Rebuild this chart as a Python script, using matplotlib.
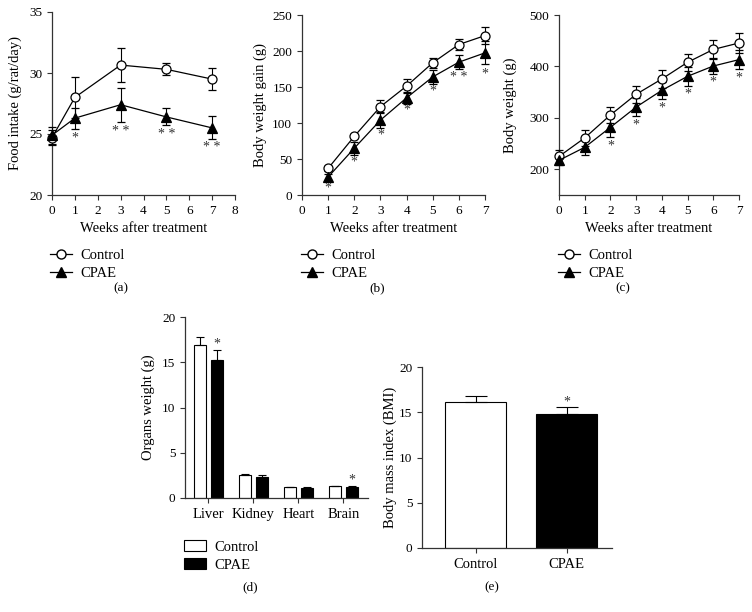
import numpy as np
import matplotlib.pyplot as plt
from matplotlib.lines import Line2D

plt.rcParams['font.family'] = ['Liberation Serif', 'DejaVu Serif']
plt.rcParams['font.size'] = 9

# (a) food intake
wk_a = [0, 1, 3, 5, 7]
food_ctrl = [24.7, 28.0, 30.65, 30.3, 29.5]
food_ctrl_err = [0.6, 1.7, 1.4, 0.5, 0.9]
food_cpae = [24.9, 26.3, 27.4, 26.4, 25.5]
food_cpae_err = [0.7, 0.85, 1.4, 0.7, 0.95]
food_star = ['', '*', '* *', '* *', '* *']
food_star_y = [0, 24.7, 25.2, 25.0, 23.9]

# (b) body weight gain
wk_b = [1, 2, 3, 4, 5, 6, 7]
gain_ctrl = [37, 81.5, 122.7, 151.3, 183.6, 209, 221.4]
gain_ctrl_err = [3, 3, 9, 10, 7, 8, 12]
gain_cpae = [25, 65, 104, 135, 164, 184.5, 197.4]
gain_cpae_err = [4, 9, 11, 8, 10, 9.5, 16]
gain_star = ['*', '*', '*', '*', '*', '* *', '*']
gain_star_y = [9, 46, 83, 117.5, 144.7, 163, 168]

# (c) body weight
wk_c = [0, 1, 2, 3, 4, 5, 6, 7]
bw_ctrl = [225, 261, 305.6, 345.8, 375.6, 408, 433, 445.6]
bw_ctrl_err = [12, 16, 15, 17, 18, 16, 18, 19]
bw_cpae = [217.4, 242.7, 281.6, 321, 353.5, 380.8, 400.8, 413.2]
bw_cpae_err = [10, 15, 18, 18, 16, 18, 16, 18]
bw_star = ['', '', '*', '*', '*', '*', '*', '*']
bw_star_y = [0, 0, 245, 286, 319, 345.7, 369.7, 377]

# (d) organs weight
organs = ['Liver', 'Kidney', 'Heart', 'Brain']
org_ctrl = [16.9, 2.5, 1.2, 1.3]
org_ctrl_err = [0.9, 0.1, 0.05, 0.05]
org_cpae = [15.2, 2.35, 1.15, 1.25]
org_cpae_err = [1.1, 0.15, 0.07, 0.05]
org_star = ['*', '', '', '*']

# (e) BMI
groups = ['Control', 'CPAE']
bmi = [16.1, 14.85]
bmi_err = [0.7, 0.7]
bmi_star = ['', '*']

W, H = 752, 612
fig = plt.figure(figsize=(W / 100, H / 100), dpi=100)


def mkax(l, r, t, b):
    ax = fig.add_axes([l / W, 1 - b / H, (r - l) / W, (b - t) / H])
    for s in ['top', 'right']:
        ax.spines[s].set_visible(False)
    for s in ['left', 'bottom']:
        ax.spines[s].set_color('#333333')
        ax.spines[s].set_linewidth(0.9)
    ax.tick_params(direction='out', length=3.5, width=0.8, color='#333333', labelsize=9.5)
    return ax


def line_panel(ax, x, c, ce, p, pe, stars, sy):
    for y, e, m, fc in [(c, ce, 'o', 'white'), (p, pe, '^', 'black')]:
        eb = ax.errorbar(x, y, yerr=e, color='black', lw=0.9, elinewidth=0.8, capsize=3,
                         capthick=0.8, marker=m, mfc=fc, mec='black', ms=6.5,
                         mew=0.9, zorder=3)
        eb[0].set_clip_on(False)
        for a in eb[1] + eb[2]:
            a.set_clip_on(False)
    for xi, s, yi in zip(x, stars, sy):
        if s:
            ax.text(xi, yi, s, ha='center', va='center', fontsize=10, color='#333333')
    ax.set_xlabel('Weeks after treatment', fontsize=10.5)


def legend_at(ax, x, y, handles, labels, **kw):
    ax.legend(handles, labels, loc='upper left', bbox_to_anchor=(x / W, 1 - y / H),
              bbox_transform=fig.transFigure, frameon=False, fontsize=10.5,
              handlelength=1.5, handletextpad=0.6, labelspacing=0.3, borderpad=0,
              borderaxespad=0, **kw)


line_handles = [Line2D([], [], color='black', lw=0.9, marker='o', mfc='white', mec='black', ms=6.5),
                Line2D([], [], color='black', lw=0.9, marker='^', mfc='black', mec='black', ms=6.5)]
labels = ['Control', 'CPAE']

# (a)
ax = mkax(52, 235, 12, 195)
line_panel(ax, wk_a, food_ctrl, food_ctrl_err, food_cpae, food_cpae_err, food_star, food_star_y)
ax.set_xlim(0, 8)
ax.set_ylim(20, 35)
ax.set_xticks(range(0, 9))
ax.set_yticks([20, 25, 30, 35])
ax.set_ylabel('Food intake (g/rat/day)', fontsize=10.5)
ax.yaxis.set_label_coords(-0.164, 0.5)
legend_at(ax, 50, 249, line_handles, labels)
fig.text(121 / W, 1 - 288 / H, '(a)', ha='center', va='center', fontsize=9.5)

# (b)
ax = mkax(302, 485, 15, 195)
line_panel(ax, wk_b, gain_ctrl, gain_ctrl_err, gain_cpae, gain_cpae_err, gain_star, gain_star_y)
ax.set_xlim(0, 7)
ax.set_ylim(0, 250)
ax.set_xticks(range(0, 8))
ax.set_yticks(range(0, 251, 50))
ax.set_ylabel('Body weight gain (g)', fontsize=10.5)
ax.yaxis.set_label_coords(-0.191, 0.5)
legend_at(ax, 301, 249, line_handles, labels)
fig.text(377 / W, 1 - 288 / H, '(b)', ha='center', va='center', fontsize=9.5)

# (c)
ax = mkax(559, 739, 15, 195)
line_panel(ax, wk_c, bw_ctrl, bw_ctrl_err, bw_cpae, bw_cpae_err, bw_star, bw_star_y)
ax.set_xlim(0, 7)
ax.set_ylim(150, 500)
ax.set_xticks(range(0, 8))
ax.set_yticks([200, 300, 400, 500])
ax.set_ylabel('Body weight (g)', fontsize=10.5)
ax.yaxis.set_label_coords(-0.233, 0.5)
legend_at(ax, 558, 249, line_handles, labels)
fig.text(623 / W, 1 - 288 / H, '(c)', ha='center', va='center', fontsize=9.5)

# (d)
ax = mkax(185, 368, 317, 498)
xd = np.arange(len(organs))
off, bw = 0.19, 0.27
ax.bar(xd - off, org_ctrl, bw, color='white', edgecolor='black', lw=0.8, label='Control',
       yerr=[np.zeros(4), org_ctrl_err], error_kw=dict(elinewidth=0.8, capsize=3, capthick=0.8))
ax.bar(xd + off, org_cpae, bw, color='black', edgecolor='black', lw=0.8, label='CPAE',
       yerr=[np.zeros(4), org_cpae_err], error_kw=dict(elinewidth=0.8, capsize=3, capthick=0.8))
for xi, v, e, s in zip(xd, org_cpae, org_cpae_err, org_star):
    if s:
        ax.text(xi + off, v + e + 0.7, s, ha='center', va='center', fontsize=10, color='#333333')
ax.set_xlim(-0.52, 3.55)
ax.set_ylim(0, 20)
ax.set_yticks([0, 5, 10, 15, 20])
ax.set_xticks(xd)
ax.set_xticklabels(organs, fontsize=10.5)
ax.set_ylabel('Organs weight (g)', fontsize=10.5)
ax.yaxis.set_label_coords(-0.164, 0.5)
h, l = ax.get_legend_handles_labels()
legend_at(ax, 184, 540, h, l, handleheight=0.8)
fig.text(250 / W, 1 - 587 / H, '(d)', ha='center', va='center', fontsize=9.5)

# (e)
ax = mkax(422, 612, 367, 548)
xe = np.arange(len(groups))
ax.bar(xe, bmi, 0.67, color=['white', 'black'], edgecolor='black', lw=0.8,
       yerr=[np.zeros(2), bmi_err], error_kw=dict(elinewidth=0.8, capsize=8, capthick=0.8))
for xi, v, e, s in zip(xe, bmi, bmi_err, bmi_star):
    if s:
        ax.text(xi, v + e + 0.6, s, ha='center', va='center', fontsize=10, color='#333333')
ax.set_xlim(-0.59, 1.5)
ax.set_ylim(0, 20)
ax.set_yticks([0, 5, 10, 15, 20])
ax.set_xticks(xe)
ax.set_xticklabels(groups, fontsize=10.5)
ax.set_ylabel('Body mass index (BMI)', fontsize=10.5)
ax.yaxis.set_label_coords(-0.132, 0.5)
fig.text(492 / W, 1 - 587 / H, '(e)', ha='center', va='center', fontsize=9.5)

fig.savefig('out.png', dpi=100)
